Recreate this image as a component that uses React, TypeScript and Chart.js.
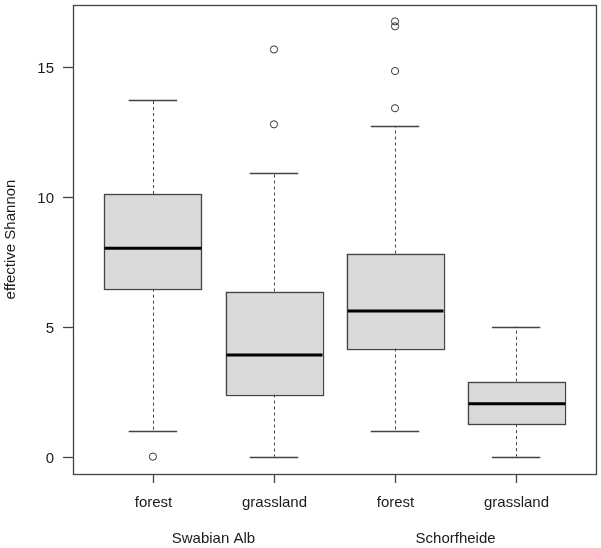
import React, { useEffect, useRef } from "react";
import { Chart, registerables } from "chart.js";
Chart.register(...registerables);

const categories = ["forest", "grassland", "forest", "grassland"];
const groups = ["Swabian Alb", "Schorfheide"];
const whiskerLow = [1.0, 0, 1.0, 0];
const q1 = [6.46, 2.39, 4.16, 1.25];
const medians = [8.01, 3.91, 5.6, 2.03];
const q3 = [10.1, 6.35, 7.81, 2.88];
const whiskerHigh = [13.72, 10.92, 12.72, 5.0];
const outliers = [[0], [12.78, 15.66], [13.4, 14.83, 16.55, 16.74], []];
const yTicks = [0, 5, 10, 15];
const yLabel = "effective Shannon";

const FONT = "15px 'Liberation Sans', Arial, sans-serif";
const TEXT = "#1a1a1a";
const LINE = "#444444";

const boxPlugin = {
  id: "rbox",
  beforeDatasetsDraw(chart: any) {
    const ctx = chart.ctx;
    const xs = chart.scales.x;
    const ys = chart.scales.y;
    const unit = xs.getPixelForValue(2) - xs.getPixelForValue(1);
    ctx.save();
    categories.forEach((_, i) => {
      const cx = xs.getPixelForValue(i + 1);
      const hw = unit * 0.4;
      const sw = unit * 0.2;
      const yq1 = ys.getPixelForValue(q1[i]);
      const yq3 = ys.getPixelForValue(q3[i]);
      const ymed = ys.getPixelForValue(medians[i]);
      const ylo = ys.getPixelForValue(whiskerLow[i]);
      const yhi = ys.getPixelForValue(whiskerHigh[i]);
      // whiskers dashed
      ctx.strokeStyle = LINE;
      ctx.lineWidth = 1;
      ctx.setLineDash([3, 3]);
      ctx.beginPath();
      ctx.moveTo(Math.round(cx) + 0.5, yq3);
      ctx.lineTo(Math.round(cx) + 0.5, yhi);
      ctx.moveTo(Math.round(cx) + 0.5, yq1);
      ctx.lineTo(Math.round(cx) + 0.5, ylo);
      ctx.stroke();
      ctx.setLineDash([]);
      // staples
      ctx.lineWidth = 1.3;
      ctx.beginPath();
      ctx.moveTo(cx - sw, Math.round(yhi) + 0.5);
      ctx.lineTo(cx + sw, Math.round(yhi) + 0.5);
      ctx.moveTo(cx - sw, Math.round(ylo) + 0.5);
      ctx.lineTo(cx + sw, Math.round(ylo) + 0.5);
      ctx.stroke();
      // box
      ctx.fillStyle = "#d9d9d9";
      ctx.fillRect(cx - hw, yq3, hw * 2, yq1 - yq3);
      ctx.lineWidth = 1.3;
      ctx.strokeStyle = LINE;
      ctx.strokeRect(Math.round(cx - hw) + 0.5, Math.round(yq3) + 0.5, Math.round(hw * 2), Math.round(yq1 - yq3));
      // median
      ctx.strokeStyle = "#000000";
      ctx.lineWidth = 3;
      ctx.beginPath();
      ctx.moveTo(Math.round(cx - hw) + 0.5, ymed);
      ctx.lineTo(Math.round(cx + hw) + 0.5, ymed);
      ctx.stroke();
    });
    ctx.restore();
  },
  afterDraw(chart: any) {
    const ctx = chart.ctx;
    const xs = chart.scales.x;
    const ys = chart.scales.y;
    const a = chart.chartArea;
    ctx.save();
    ctx.strokeStyle = LINE;
    ctx.lineWidth = 1.3;
    ctx.strokeRect(Math.round(a.left) + 0.5, Math.round(a.top) + 0.5, Math.round(a.right - a.left), Math.round(a.bottom - a.top));
    ctx.font = FONT;
    ctx.fillStyle = TEXT;
    // y ticks
    ctx.textAlign = "right";
    ctx.textBaseline = "middle";
    yTicks.forEach((t) => {
      const y = Math.round(ys.getPixelForValue(t)) + 0.5;
      ctx.beginPath();
      ctx.moveTo(a.left - 10, y);
      ctx.lineTo(a.left, y);
      ctx.stroke();
      ctx.fillText(String(t), a.left - 19, y + 1);
    });
    // x ticks
    ctx.textAlign = "center";
    categories.forEach((c, i) => {
      const x = Math.round(xs.getPixelForValue(i + 1)) + 0.5;
      ctx.beginPath();
      ctx.moveTo(x, a.bottom);
      ctx.lineTo(x, a.bottom + 9);
      ctx.stroke();
      ctx.fillText(c, x, 503);
    });
    groups.forEach((g, gi) => {
      const x = (xs.getPixelForValue(gi * 2 + 1) + xs.getPixelForValue(gi * 2 + 2)) / 2;
      ctx.fillText(g, x, 539);
    });
    // y title
    ctx.translate(11, (a.top + a.bottom) / 2);
    ctx.rotate(-Math.PI / 2);
    ctx.textAlign = "center";
    ctx.textBaseline = "middle";
    ctx.fillText(yLabel, 0, 0);
    ctx.restore();
  },
};

export default function App() {
  const ref = useRef<HTMLCanvasElement>(null);
  useEffect(() => {
    if (!ref.current) return;
    const pts: { x: number; y: number }[] = [];
    outliers.forEach((arr, i) => arr.forEach((v) => pts.push({ x: i + 1, y: v })));
    const chart = new Chart(ref.current, {
      type: "scatter",
      data: {
        datasets: [
          {
            data: pts,
            pointRadius: 3.6,
            pointBorderWidth: 1,
            borderColor: "#333333",
            backgroundColor: "rgba(0,0,0,0)",
          },
        ],
      },
      options: {
        responsive: false,
        animation: false,
        events: [],
        layout: { padding: { left: 73, right: 5, top: 3, bottom: 74 } },
        plugins: { legend: { display: false }, tooltip: { enabled: false } },
        scales: {
          x: { type: "linear", min: 0.34, max: 4.66, display: false },
          y: { type: "linear", min: -0.668, max: 17.37, display: false },
        },
      },
      plugins: [boxPlugin],
    });
    return () => chart.destroy();
  }, []);
  return (
    <div style={{ position: "absolute", left: 0, top: 0, width: 601, height: 548, background: "#fff" }}>
      <canvas ref={ref} width={601} height={548} />
    </div>
  );
}
